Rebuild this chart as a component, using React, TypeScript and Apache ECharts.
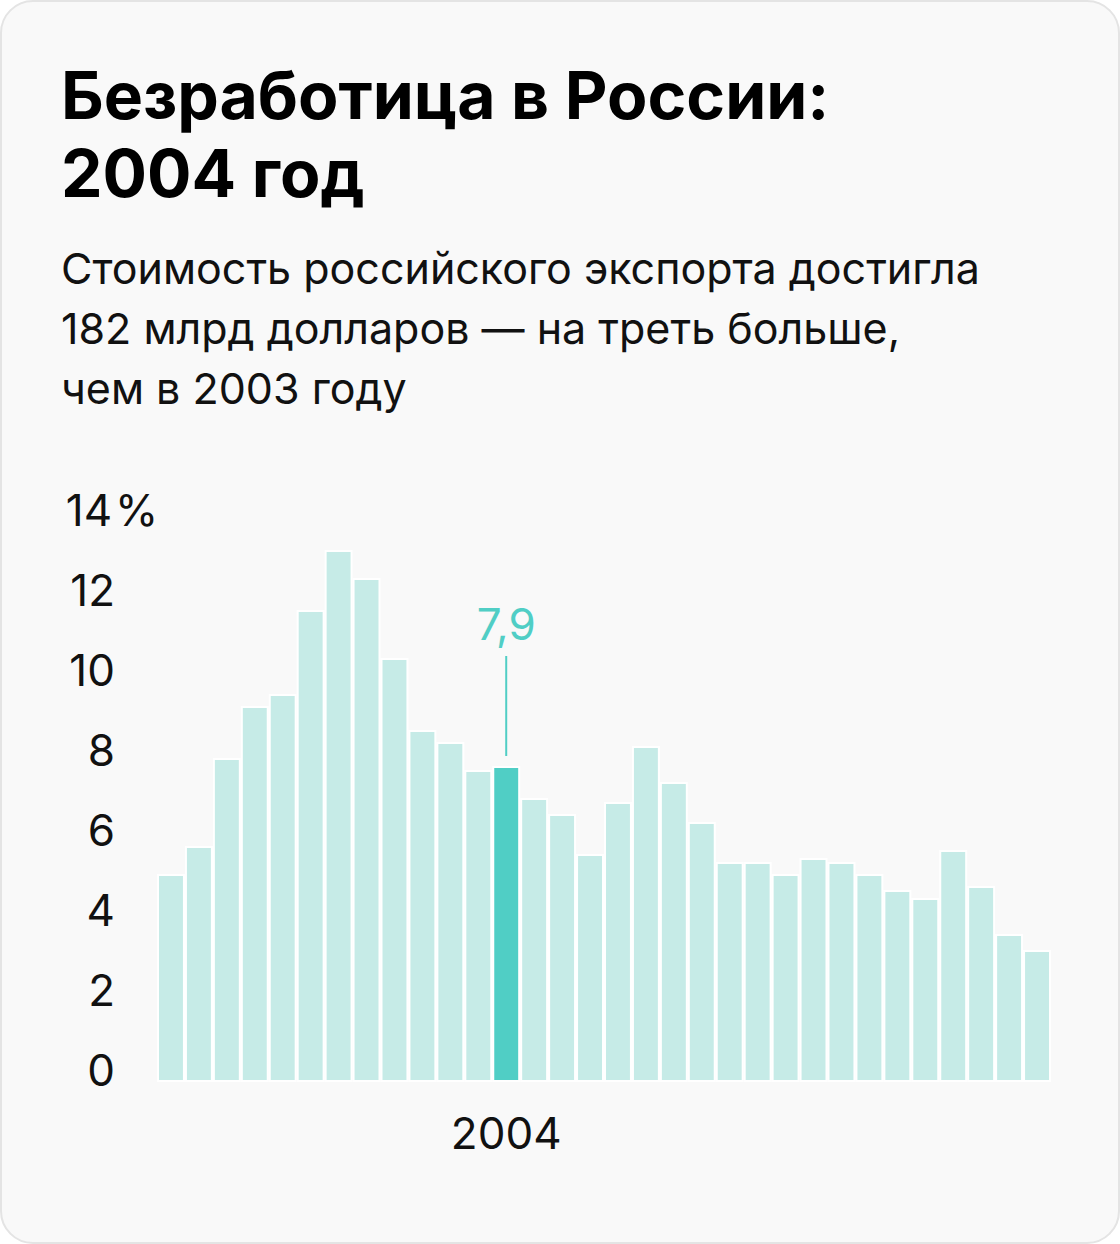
import React, { useEffect, useRef } from "react";
import * as echarts from "echarts";

const years = [
  "1992", "1993", "1994", "1995", "1996", "1997", "1998", "1999", "2000", "2001",
  "2002", "2003", "2004", "2005", "2006", "2007", "2008", "2009", "2010", "2011",
  "2012", "2013", "2014", "2015", "2016", "2017", "2018", "2019", "2020", "2021",
  "2022", "2023",
];
const unemployment = [
  5.2, 5.9, 8.1, 9.4, 9.7, 11.8, 13.3, 12.6, 10.6, 8.8,
  8.5, 7.8, 7.9, 7.1, 6.7, 5.7, 7.0, 8.4, 7.5, 6.5,
  5.5, 5.5, 5.2, 5.6, 5.5, 5.2, 4.8, 4.6, 5.8, 4.9,
  3.7, 3.3,
];
const highlightYear = "2004";
const highlightLabel = "7,9";
const yTicks = [0, 2, 4, 6, 8, 10, 12, 14];

const titleText = "Безработица в России:\n2004 год";
const subtitleText =
  "Стоимость российского экспорта достигла\n182 млрд долларов — на треть больше,\nчем в 2003 году";

const FONT = "Inter, 'Noto Sans', sans-serif";
const LIGHT = "#c6ebe7";
const DARK = "#50cec5";

export default function App() {
  const ref = useRef<HTMLDivElement>(null);

  useEffect(() => {
    document.body.style.margin = "0";
    if (!ref.current) return;
    const chart = echarts.init(ref.current, null, { renderer: "svg" });
    const maxTick = yTicks[yTicks.length - 1];

    chart.setOption({
      animation: false,
      backgroundColor: "transparent",
      textStyle: { fontFamily: FONT },
      graphic: [
        {
          type: "rect",
          shape: { x: 1, y: 1, width: 1118, height: 1242, r: 32 },
          style: { fill: "#f9f9f9", stroke: "#e4e4e4", lineWidth: 2 },
          z: -10,
        },
        {
          type: "text",
          x: 61,
          y: 56,
          style: {
            text: titleText,
            font: `bold 66px ${FONT}`,
            fill: "#000000",
            lineHeight: 78,
            verticalAlign: "top",
          },
        },
        {
          type: "text",
          x: 61,
          y: 238,
          style: {
            text: subtitleText,
            font: `400 43px ${FONT}`,
            fill: "#111111",
            lineHeight: 60,
            verticalAlign: "top",
          },
        },
      ],
      grid: { left: 157, right: 69, top: 522, bottom: 162, containLabel: false },
      xAxis: {
        type: "category",
        data: years,
        axisLine: { show: false },
        axisTick: { show: false },
        axisLabel: {
          interval: (i: number, v: string) => v === highlightYear,
          color: "#111111",
          fontSize: 44,
          fontFamily: FONT,
          margin: 29,
        },
      },
      yAxis: {
        type: "value",
        min: 0,
        max: maxTick,
        interval: 2,
        splitLine: { show: false },
        axisLine: { show: false },
        axisTick: { show: false },
        axisLabel: {
          align: "left",
          margin: 94,
          verticalAlign: "bottom",
          lineHeight: 24,
          formatter: (v: number) =>
            v === maxTick ? `{n|${v}}{p|%}` : `{n|${v}}`,
          rich: {
            n: { width: 52, align: "right", fontSize: 44, color: "#111111", fontFamily: FONT, lineHeight: 24 },
            p: { fontSize: 44, color: "#111111", fontFamily: FONT, lineHeight: 24 },
          },
        },
      },
      series: [
        {
          type: "bar",
          barCategoryGap: "0%",
          data: unemployment.map((v, i) => {
            const hl = years[i] === highlightYear;
            return {
              value: v,
              itemStyle: { color: hl ? DARK : LIGHT, borderColor: "#ffffff", borderWidth: 2 },
              label: hl
                ? {
                    show: true,
                    position: "top",
                    distance: 10,
                    formatter: `{v|${highlightLabel}}\n{l|}`,
                    rich: {
                      v: { fontSize: 44, color: DARK, fontFamily: FONT, lineHeight: 64, align: "center" },
                      l: { width: 2, height: 100, backgroundColor: DARK, align: "center" },
                    },
                  }
                : { show: false },
            };
          }),
        },
      ],
    });

    return () => chart.dispose();
  }, []);

  return <div ref={ref} style={{ width: 1120, height: 1244 }} />;
}
